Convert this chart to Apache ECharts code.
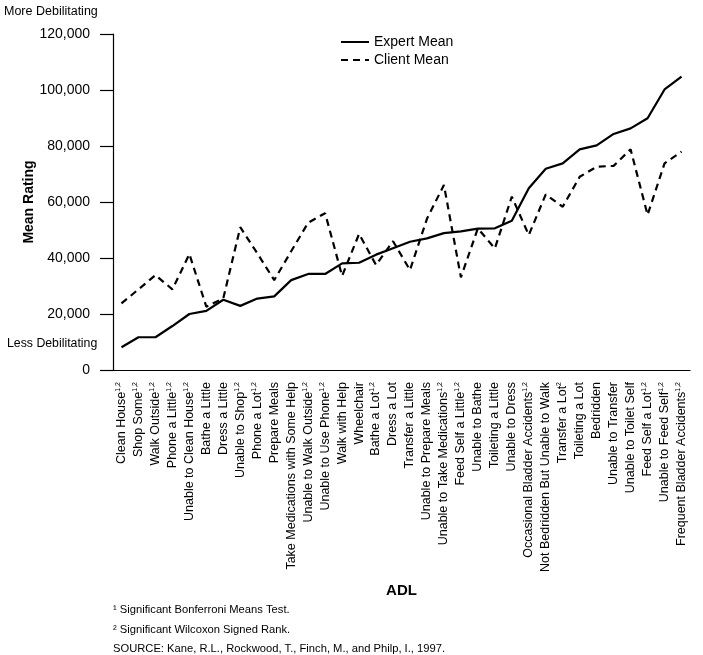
<!DOCTYPE html>
<html>
<head>
<meta charset="utf-8">
<script src="https://cdn.jsdelivr.net/npm/echarts@6/dist/echarts.min.js"></script>
<style>
  html, body { margin: 0; padding: 0; background: #fff; }
  #chart { width: 703px; height: 655px; }
</style>
</head>
<body>
<div id="chart"></div>
<script>
const categories = [
  'Clean House', 'Shop Some', 'Walk Outside', 'Phone a Little', 'Unable to Clean House',
  'Bathe a Little', 'Dress a Little', 'Unable to Shop', 'Phone a Lot', 'Prepare Meals',
  'Take Medications with Some Help', 'Unable to Walk Outside', 'Unable to Use Phone',
  'Walk with Help', 'Wheelchair', 'Bathe a Lot', 'Dress a Lot', 'Transfer a Little',
  'Unable to Prepare Meals', 'Unable to Take Medications', 'Feed Self a Little',
  'Unable to Bathe', 'Toileting a Little', 'Unable to Dress', 'Occasional Bladder Accidents',
  'Not Bedridden But Unable to Walk', 'Transfer a Lot', 'Toileting a Lot', 'Bedridden',
  'Unable to Transfer', 'Unable to Toilet Self', 'Feed Self a Lot', 'Unable to Feed Self',
  'Frequent Bladder Accidents'
];
const superscripts = [
  '1,2', '1,2', '1,2', '1,2', '1,2',
  '', '', '1,2', '1,2', '',
  '', '1,2', '1,2',
  '', '', '1,2', '', '',
  '', '1,2', '1,2',
  '', '', '', '1,2',
  '', '2', '', '',
  '', '', '1,2', '1,2',
  '1,2'
];
const expertMean = [
  8100, 11700, 11700, 15700, 20000, 21100, 25100, 22900, 25500, 26300,
  32100, 34300, 34300, 38100, 38300, 41200, 43500, 45800, 47000, 48900,
  49500, 50500, 50600, 53300, 64900, 71900, 73800, 78800, 80200, 84300,
  86300, 89900, 100200, 104800
];
const clientMean = [
  23800, 28800, 33900, 28800, 41400, 22600, 25600, 51000, 41700, 32100,
  42400, 52600, 56000, 33600, 48600, 37500, 46000, 35700, 54000, 66100,
  33100, 50600, 43400, 61900, 48200, 62700, 58300, 69000, 72600, 72900,
  78800, 55400, 73800, 78000
];
const yTicks = { min: 0, max: 120000, interval: 20000 };

const FONT = '"Liberation Sans", Arial, Helvetica, sans-serif';
const chart = echarts.init(document.getElementById('chart'));
chart.setOption({
  animation: false,
  backgroundColor: '#fff',
  textStyle: { fontFamily: FONT, color: '#000' },
  grid: { left: 113, right: 13, top: 34, bottom: 285 },
  legend: {
    orient: 'vertical',
    left: 335,
    top: 30,
    itemWidth: 28,
    itemHeight: 14,
    itemGap: 4,
    itemStyle: { opacity: 0 },
    textStyle: { fontFamily: FONT, fontSize: 14, color: '#000' },
    data: ['Expert Mean', 'Client Mean']
  },
  xAxis: {
    type: 'category',
    data: categories,
    boundaryGap: true,
    name: 'ADL',
    nameLocation: 'middle',
    nameGap: 213,
    nameMoveOverlap: false,
    nameTextStyle: { fontFamily: FONT, fontSize: 15, fontWeight: 'bold', color: '#000' },
    axisLine: { lineStyle: { color: '#000', width: 1.2 } },
    axisTick: { alignWithLabel: true, length: 10, lineStyle: { color: '#000', width: 1.2 } },
    axisLabel: {
      interval: 0,
      rotate: 90,
      margin: 12,
      color: '#000',
      formatter: function (value, idx) {
        const s = superscripts[idx];
        return '{n|' + value + '}' + (s ? '{s|' + s + '}' : '');
      },
      rich: {
        n: { fontFamily: FONT, fontSize: 12.5, color: '#000', lineHeight: 14 },
        s: { fontFamily: FONT, fontSize: 7, color: '#000', verticalAlign: 'top', lineHeight: 14 }
      }
    }
  },
  yAxis: {
    type: 'value',
    min: yTicks.min,
    max: yTicks.max,
    interval: yTicks.interval,
    name: 'Mean Rating',
    nameLocation: 'middle',
    nameGap: 77,
    nameMoveOverlap: false,
    nameRotate: 90,
    nameTextStyle: { fontFamily: FONT, fontSize: 14, fontWeight: 'bold', color: '#000' },
    axisLine: { show: true, lineStyle: { color: '#000', width: 1.2 } },
    axisTick: { show: true, length: 13, lineStyle: { color: '#000', width: 1.2 } },
    splitLine: { show: false },
    axisLabel: { margin: 23, fontFamily: FONT, fontSize: 14, color: '#000' }
  },
  series: [
    {
      name: 'Expert Mean',
      type: 'line',
      data: expertMean,
      symbol: 'none',
      lineStyle: { color: '#000', width: 2.2 },
      itemStyle: { color: '#000' }
    },
    {
      name: 'Client Mean',
      type: 'line',
      data: clientMean,
      symbol: 'none',
      lineStyle: { color: '#000', width: 2.2, type: [7, 5] },
      itemStyle: { color: '#000' }
    }
  ],
  graphic: [
    { type: 'text', left: 4, top: 5, style: { text: 'More Debilitating', font: '12.5px ' + FONT, fill: '#000' } },
    { type: 'text', left: 7, top: 338, style: { text: 'Less Debilitating', font: '12.3px ' + FONT, fill: '#000' } },
    { type: 'text', left: 113, top: 604, style: { text: '¹ Significant Bonferroni Means Test.', font: '11.2px ' + FONT, fill: '#000' } },
    { type: 'text', left: 113, top: 624, style: { text: '² Significant Wilcoxon Signed Rank.', font: '11.2px ' + FONT, fill: '#000' } },
    { type: 'text', left: 113, top: 643, style: { text: 'SOURCE: Kane, R.L., Rockwood, T., Finch, M., and Philp, I., 1997.', font: '11.2px ' + FONT, fill: '#000' } }
  ]
});
</script>
</body>
</html>
